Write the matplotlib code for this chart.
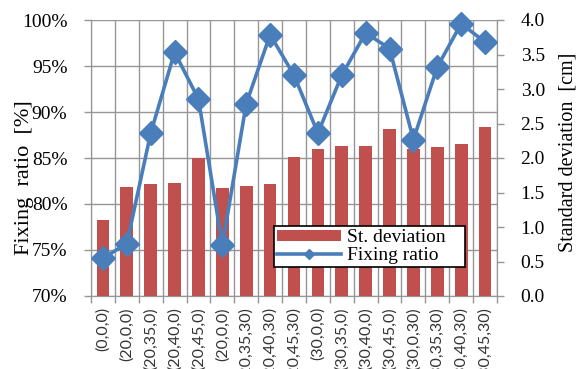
import numpy as np
import matplotlib
matplotlib.use("Agg")
import matplotlib.pyplot as plt
from matplotlib.lines import Line2D
from matplotlib.patches import Patch
from matplotlib.ticker import FuncFormatter, MultipleLocator, FixedLocator

# conditions (angle settings) along the x axis
conditions = ["(0,0,0)", "(20,0,0)", "(20,35,0)", "(20,40,0)", "(20,45,0)",
              "(20,0,0)", "(20,35,30)", "(20,40,30)", "(20,45,30)",
              "(30,0,0)", "(30,35,0)", "(30,40,0)", "(30,45,0)",
              "(30,0,30)", "(30,35,30)", "(30,40,30)", "(30,45,30)"]

# fixing ratio [%]
fixing_ratio = [74.1, 75.7, 87.7, 96.5, 91.4, 75.5, 90.9, 98.4, 94.0,
                87.7, 94.0, 98.6, 96.9, 87.0, 94.9, 99.6, 97.6]

# standard deviation [cm]
std_dev = [1.10, 1.58, 1.62, 1.64, 2.00, 1.57, 1.60, 1.62, 2.02,
           2.13, 2.18, 2.18, 2.42, 2.13, 2.16, 2.20, 2.45]

bar_color = "#C0504D"
line_color = "#4A7EBB"
grid_color = "#969696"

serif = ["Liberation Serif", "DejaVu Serif"]
plt.rcParams["font.family"] = serif

fig = plt.figure(figsize=(5.8, 3.69), dpi=100)
rect = [91 / 580, 1 - 296 / 369, 406 / 580, 276 / 369]

x = np.arange(len(conditions))

# bottom layer: grid, left scale
ax = fig.add_axes(rect)
ax.set_xlim(-0.5, len(conditions) - 0.5)
ax.set_ylim(70, 100)
ax.yaxis.set_major_locator(MultipleLocator(5))
ax.yaxis.set_major_formatter(FuncFormatter(lambda v, p: f"{v:.0f}%"))
ax.xaxis.set_major_locator(FixedLocator(x))
ax.xaxis.set_minor_locator(FixedLocator(np.arange(-0.5, len(conditions), 1)))
ax.set_xticklabels(conditions, rotation=90, fontsize=11.5,
                   family=["Lato", "DejaVu Sans"], color="#333333")
ax.tick_params(axis="x", which="major", length=0, pad=8)
ax.tick_params(axis="x", which="minor", length=5, color=grid_color, width=1)
ax.tick_params(axis="y", length=5, color=grid_color, width=1, labelsize=14, pad=12)
ax.grid(axis="y", color=grid_color, linewidth=1)
ax.grid(axis="x", which="minor", color=grid_color, linewidth=1)
for s in ax.spines.values():
    s.set_color(grid_color)
ax.spines["top"].set_visible(False)
ax.set_ylabel("Fixing  ratio  [%]", fontsize=16)
ax.yaxis.set_label_coords(-0.14, 0.43)

# middle layer: bars on the right scale
ax2 = ax.twinx()
ax2.bar(x, std_dev, width=0.53, color=bar_color, zorder=2)
ax2.set_ylim(0, 4)
ax2.yaxis.set_major_locator(MultipleLocator(0.5))
ax2.yaxis.set_major_formatter(FuncFormatter(lambda v, p: f"{v:.1f}"))
ax2.tick_params(axis="y", length=5, color=grid_color, width=1, labelsize=14, pad=12)
for s in ax2.spines.values():
    s.set_color(grid_color)
ax2.spines["top"].set_visible(False)
ax2.set_ylabel("Standard deviation  [cm]", fontsize=14.5)
ax2.yaxis.set_label_coords(1.152, 0.52)

# top layer: fixing ratio line drawn over the bars
ax3 = fig.add_axes(rect, sharex=ax, sharey=ax)
ax3.set_axis_off()
ax3.patch.set_visible(False)
ax3.plot(x, fixing_ratio, color=line_color, linewidth=2.6, marker="D",
         markersize=12.5, markeredgecolor=line_color, clip_on=False)

handles = [Patch(facecolor=bar_color, edgecolor="none"),
           Line2D([], [], color=line_color, linewidth=2.6, marker="D", markersize=5)]
leg = ax3.legend(handles, ["St. deviation", "Fixing ratio"],
                 loc="lower left", bbox_to_anchor=(0.45, 0.105, 0.47, 0.155),
                 mode="expand", fontsize=14, frameon=True, fancybox=False,
                 handlelength=3.3, handleheight=0.5, handletextpad=0.3,
                 borderpad=0.15, labelspacing=0.05, borderaxespad=0)
leg.get_frame().set_edgecolor("black")
leg.get_frame().set_linewidth(1.2)
leg.get_frame().set_alpha(1)

fig.savefig("out.png", dpi=100)
